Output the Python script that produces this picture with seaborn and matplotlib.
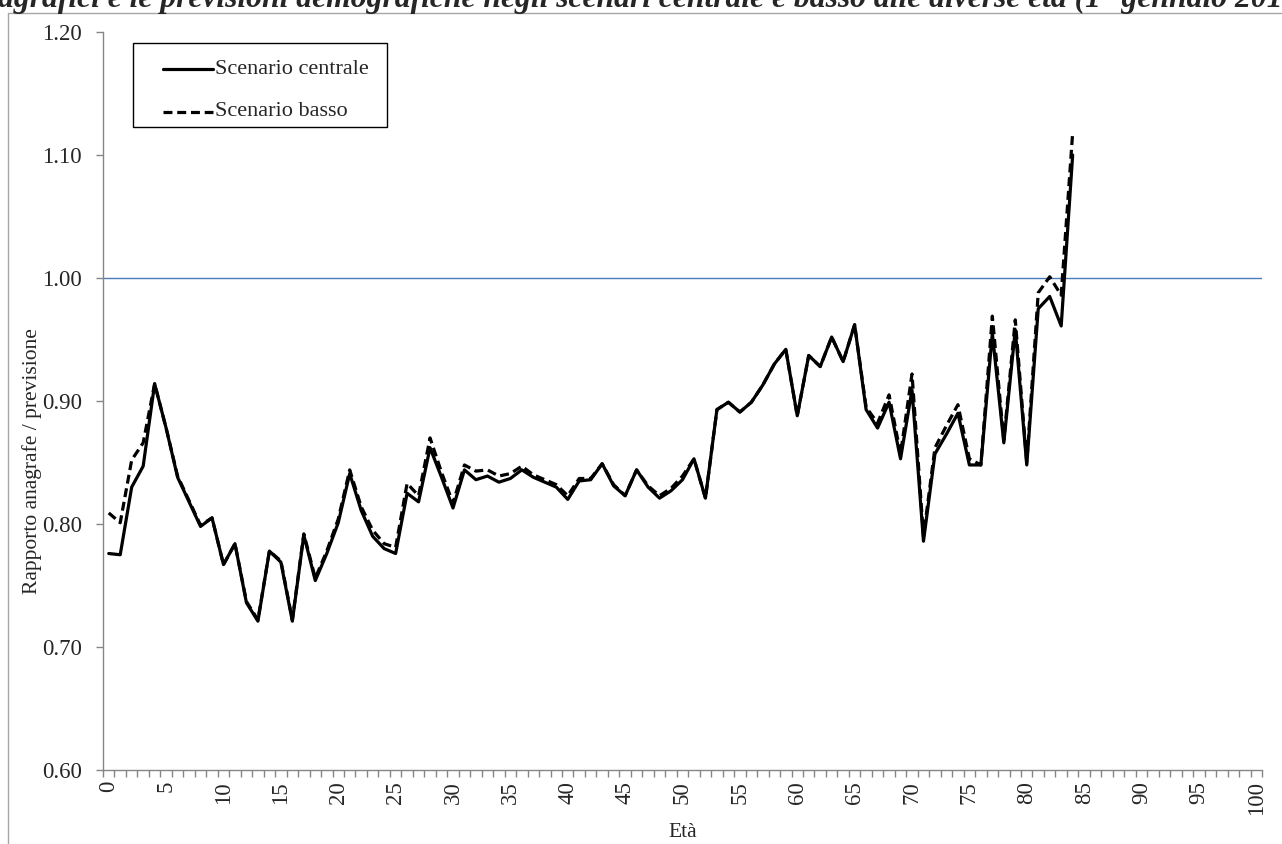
import numpy as np
import pandas as pd
import matplotlib
matplotlib.use("Agg")
import matplotlib.pyplot as plt
from matplotlib.lines import Line2D
from matplotlib.patches import Rectangle
import seaborn as sns

# Ages 0-100 (values available up to age 84)
ages = list(range(0, 101))

centrale = [
    0.776, 0.775, 0.830, 0.847, 0.914, 0.878, 0.838, 0.818, 0.798, 0.805,
    0.767, 0.784, 0.736, 0.721, 0.778, 0.769, 0.721, 0.791, 0.754, 0.776,
    0.801, 0.841, 0.811, 0.790, 0.780, 0.776, 0.825, 0.818, 0.862, 0.838,
    0.813, 0.844, 0.836, 0.839, 0.834, 0.837, 0.844, 0.838, 0.834, 0.830,
    0.820, 0.835, 0.836, 0.849, 0.831, 0.823, 0.844, 0.830, 0.821, 0.827,
    0.836, 0.853, 0.821, 0.893, 0.899, 0.891, 0.899, 0.913, 0.930, 0.942,
    0.888, 0.937, 0.928, 0.952, 0.932, 0.962, 0.893, 0.878, 0.899, 0.853,
    0.909, 0.786, 0.857, 0.873, 0.890, 0.848, 0.848, 0.955, 0.866, 0.958,
    0.848, 0.975, 0.985, 0.961, 1.100,
]

basso = [
    0.809, 0.801, 0.852, 0.866, 0.914, 0.878, 0.839, 0.819, 0.799, 0.805,
    0.767, 0.784, 0.737, 0.722, 0.778, 0.770, 0.722, 0.792, 0.756, 0.778,
    0.804, 0.844, 0.814, 0.795, 0.784, 0.781, 0.833, 0.823, 0.870, 0.842,
    0.817, 0.848, 0.843, 0.844, 0.839, 0.841, 0.847, 0.840, 0.836, 0.832,
    0.823, 0.837, 0.837, 0.849, 0.832, 0.823, 0.844, 0.831, 0.823, 0.829,
    0.839, 0.853, 0.821, 0.893, 0.899, 0.891, 0.899, 0.913, 0.930, 0.942,
    0.888, 0.937, 0.928, 0.952, 0.932, 0.962, 0.895, 0.882, 0.905, 0.857,
    0.922, 0.790, 0.862, 0.880, 0.897, 0.853, 0.848, 0.969, 0.868, 0.966,
    0.850, 0.988, 1.001, 0.986, 1.118,
]

series_names = ["Scenario centrale", "Scenario basso"]
tick_labels = [str(a) for a in range(0, 101, 5)]
y_ticks = [0.60, 0.70, 0.80, 0.90, 1.00, 1.10, 1.20]

n = len(ages)
df = pd.DataFrame({
    "eta": ages,
    series_names[0]: centrale + [np.nan] * (n - len(centrale)),
    series_names[1]: basso + [np.nan] * (n - len(basso)),
})

sns.set_theme(style="white")
plt.rcParams["font.family"] = ["Liberation Serif", "DejaVu Serif"]

W, H = 1282, 844
fig = plt.figure(figsize=(W / 100, H / 100), dpi=100)
ax = fig.add_axes([103 / W, 1 - 770 / H, (1262 - 103) / W, (770 - 32) / H])

LW = 2.3
DASH = (0, (2.8, 1.5))

# Reference line at ratio 1
ax.axhline(1.0, color="#4a7ebb", lw=1.0, zorder=1)

sns.lineplot(data=df, x="eta", y=series_names[1], ax=ax, color="black",
             lw=LW, linestyle=DASH, zorder=3)
sns.lineplot(data=df, x="eta", y=series_names[0], ax=ax, color="black",
             lw=LW, zorder=4)

ax.set_xlim(-0.5, 100.5)
ax.set_ylim(0.60, 1.20)

grey = "#868686"
for s in ["top", "right"]:
    ax.spines[s].set_visible(False)
for s in ["left", "bottom"]:
    ax.spines[s].set_color(grey)
    ax.spines[s].set_linewidth(1.0)

ax.set_yticks(y_ticks)
ax.set_yticklabels([f"{v:.2f}" for v in y_ticks], fontsize=16.5)
ax.tick_params(axis="y", direction="out", length=5, width=1, color=grey,
               left=True, pad=10)

ax.set_xticks(list(range(0, 101, 5)))
ax.set_xticklabels(tick_labels, rotation=90, fontsize=16.5)
ax.set_xticks(np.arange(-0.5, 101, 1.0), minor=True)
ax.tick_params(axis="x", which="major", length=0, pad=8, bottom=True)
ax.tick_params(axis="x", which="minor", direction="out", length=5, width=1,
               color=grey, bottom=True)

ax.set_xlabel("Età", fontsize=15.5, labelpad=6)
ax.set_ylabel("Rapporto anagrafe / previsione", fontsize=15.5)
ax.yaxis.set_label_coords(-(103 - 42) / 1159, (770 - 461) / 738)


def fx(px):
    return px / W


def fy(py):
    return 1 - py / H


# Legend box with line samples
fig.add_artist(Rectangle((fx(133), fy(127)), fx(387) - fx(133),
                         fy(43) - fy(127), transform=fig.transFigure,
                         facecolor="white", edgecolor="black", lw=1.0,
                         zorder=5))
for name, style, py in [(series_names[0], "-", 69), (series_names[1], DASH, 112)]:
    fig.add_artist(Line2D([fx(163), fx(213)], [fy(py), fy(py)], color="black",
                          lw=LW, linestyle=style, transform=fig.transFigure,
                          zorder=6))
    fig.text(fx(215), fy(py), name, fontsize=16, ha="left", va="center",
             zorder=6)

# Chart-area border
fig.add_artist(Line2D([fx(8), fx(8)], [0, fy(13)], color="#a6a6a6",
                      lw=1.0, transform=fig.transFigure))
fig.add_artist(Line2D([fx(8), 1], [fy(13), fy(13)], color="#a6a6a6",
                      lw=1.0, transform=fig.transFigure))

fig.text(fx(-2), fy(7),
         "agrafici e le previsioni demografiche negli scenari centrale e basso alle diverse età (1° gennaio 2012)",
         fontsize=22.8, fontstyle="italic", fontweight="bold", ha="left",
         va="baseline")

fig.savefig("out.png", dpi=100, facecolor="white")
